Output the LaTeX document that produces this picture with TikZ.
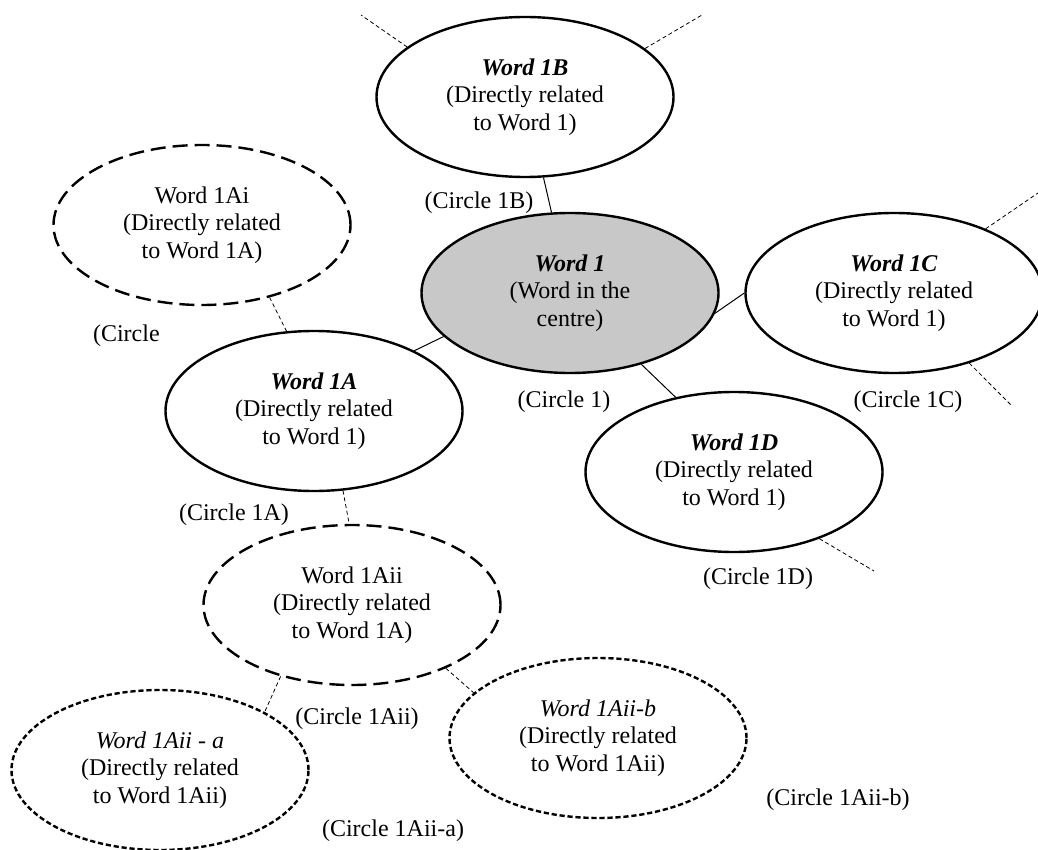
\documentclass[tikz,border=0pt]{standalone}
\usepackage{fontspec}
\setmainfont{Liberation Serif}
\usetikzlibrary{shapes.geometric}
\definecolor{centregrey}{RGB}{200,200,200}

\begin{document}
\begin{tikzpicture}[x=0.5pt,y=-0.5pt,
  word/.style={ellipse,draw,line width=1.2pt,minimum width=148.5pt,minimum height=80pt,
    inner sep=0pt,align=center,font=\fontsize{12}{13.8}\selectfont},
  subword/.style={word,dash pattern=on 7.5pt off 3.5pt},
  subsubword/.style={word,dash pattern=on 2.6pt off 1.4pt},
  tag/.style={font=\fontsize{12}{13.8}\selectfont},
  link/.style={line width=0.5pt},
  dlink/.style={line width=0.4pt,dash pattern=on 2pt off 1.4pt}]
  \useasboundingbox (0,0) rectangle (1038,850);

  % circles
  \node[word,fill=centregrey] (W)    at (570,293) {\textbf{\textit{Word 1}}\\(Word in the\\centre)};
  \node[word]                 (B)    at (525,97)  {\textbf{\textit{Word 1B}}\\(Directly related\\to Word 1)};
  \node[word]                 (C)    at (894,293) {\textbf{\textit{Word 1C}}\\(Directly related\\to Word 1)};
  \node[word]                 (A)    at (314,411) {\textbf{\textit{Word 1A}}\\(Directly related\\to Word 1)};
  \node[word]                 (D)    at (734,472) {\textbf{\textit{Word 1D}}\\(Directly related\\to Word 1)};
  \node[subword]              (Ai)   at (202,225) {Word 1Ai\\(Directly related\\to Word 1A)};
  \node[subword]              (Aii)  at (352,605) {Word 1Aii\\(Directly related\\to Word 1A)};
  \node[subsubword]           (Aiia) at (160,770) {\textit{Word 1Aii - a}\\(Directly related\\to Word 1Aii)};
  \node[subsubword]           (Aiib) at (598,738) {\textit{Word 1Aii-b}\\(Directly related\\to Word 1Aii)};

  % circle names
  \node[tag]             (tW)    at (564,402) {(Circle 1)};
  \node[tag]             (tB)    at (479,203) {(Circle 1B)};
  \node[tag]             (tC)    at (908,402) {(Circle 1C)};
  \node[tag]             (tA)    at (234,515) {(Circle 1A)};
  \node[tag]             (tD)    at (758,579) {(Circle 1D)};
  \node[tag,anchor=west] (tAi)   at (86,336)  {(Circle};
  \node[tag]             (tAii)  at (357,719) {(Circle 1Aii)};
  \node[tag]             (tAiia) at (393,831) {(Circle 1Aii-a)};
  \node[tag]             (tAiib) at (838,800) {(Circle 1Aii-b)};

  % loose ends
  \coordinate (b1) at (361,15);
  \coordinate (b2) at (702,15);
  \coordinate (c1) at (1038,193);
  \coordinate (c2) at (1011,405);
  \coordinate (d1) at (874,571);

  \path[link] (B) edge (W)
              (W.-8) edge (C.west)
              (A.31) edge (W.199)
              (W.-45) edge (D.128);

  \path[dlink] (Ai.-47) edge (A.109)
               (A.-70) edge (Aii.92)
               (Aii.-135) edge (Aiia.29)
               (Aii.-34) edge (Aiib.160)
               (B.157) edge (b1)
               (B.22) edge (b2)
               (C.35) edge (c1)
               (C.-43) edge (c2)
               (D.-38) edge (d1);
\end{tikzpicture}
\end{document}
